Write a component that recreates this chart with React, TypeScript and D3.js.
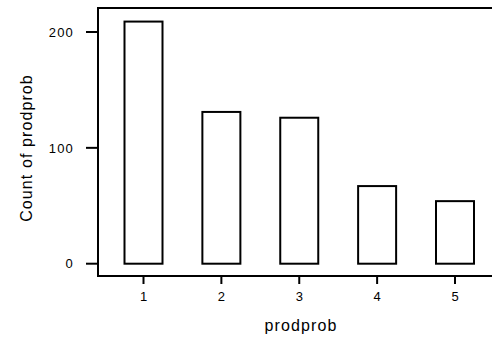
import React from "react";
import * as d3 from "d3";

const categories = [1, 2, 3, 4, 5];
const counts = [209, 131, 126, 67, 54];
const yTicks = [0, 100, 200];

export default function App() {
  const W = 492, H = 337;
  const left = 98, top = 8, bottom = 276, right = 492;
  const y = d3.scaleLinear().domain([0, 200]).range([263.7, 32]);
  const x = d3.scaleLinear().domain([1, 5]).range([143.5, 455]);
  const bw = 38;
  const font = "'Liberation Sans', Arial, sans-serif";
  return (
    <svg width={W} height={H} style={{ position: "absolute", left: 0, top: 0, background: "#fff" }}>
      <rect x={0} y={0} width={W} height={H} fill="#fff" />
      {categories.map((c, i) => (
        <rect key={c} x={x(c) - bw / 2} y={y(counts[i])} width={bw} height={y(0) - y(counts[i])}
          fill="#fff" stroke="#000" strokeWidth={2} />
      ))}
      <path d={`M${right},${top}H${left}V${bottom}H${right}`} fill="none" stroke="#000" strokeWidth={2} />
      {yTicks.map(t => (
        <g key={t}>
          <line x1={86} x2={left} y1={y(t)} y2={y(t)} stroke="#000" strokeWidth={2} />
          <text x={74} y={y(t) + 4.7} textAnchor="end" fontFamily={font} fontSize={13} letterSpacing={1.2}>{t}</text>
        </g>
      ))}
      {categories.map(c => (
        <g key={c}>
          <line x1={x(c)} x2={x(c)} y1={bottom} y2={284} stroke="#000" strokeWidth={2} />
          <text x={x(c)} y={301} textAnchor="middle" fontFamily={font} fontSize={13}>{c}</text>
        </g>
      ))}
      <text x={301} y={330.5} textAnchor="middle" fontFamily={font} fontSize={16} letterSpacing={1.1}>prodprob</text>
      <text transform={`translate(32,148) rotate(-90)`} textAnchor="middle" fontFamily={font} fontSize={16} letterSpacing={1.1}>Count of prodprob</text>
    </svg>
  );
}
